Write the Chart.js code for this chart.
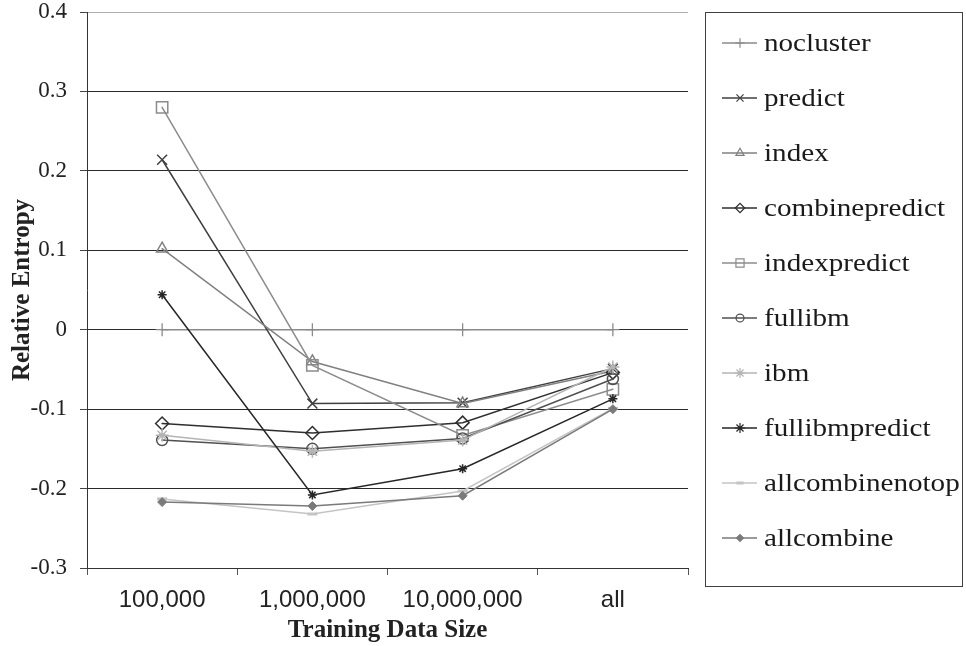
<!DOCTYPE html>
<html>
<head>
<meta charset="utf-8">
<script src="https://cdn.jsdelivr.net/npm/chart.js@4/dist/chart.umd.min.js"></script>
<style>
  html, body { margin: 0; padding: 0; background: #fff; }
  #wrap { width: 966px; height: 646px; }
</style>
</head>
<body>
<div id="wrap"><canvas id="c" width="966" height="646"></canvas></div>
<script>
// Training data sizes on the x axis
const categories = ['100,000', '1,000,000', '10,000,000', 'all'];
const yTicks = [-0.3, -0.2, -0.1, 0, 0.1, 0.2, 0.3, 0.4];

// Relative entropy for each clustering method
const nocluster       = [0.000, 0.000, 0.000, 0.000];
const predict         = [0.214, -0.093, -0.092, -0.049];
const index           = [0.102, -0.040, -0.093, -0.052];
const combinepredict  = [-0.118, -0.130, -0.117, -0.054];
const indexpredict    = [0.280, -0.045, -0.133, -0.075];
const fullibm         = [-0.139, -0.150, -0.137, -0.062];
const ibm             = [-0.133, -0.153, -0.139, -0.047];
const fullibmpredict  = [0.044, -0.208, -0.175, -0.087];
const allcombinenotop = [-0.213, -0.232, -0.203, -0.099];
const allcombine      = [-0.217, -0.222, -0.209, -0.100];

const NONE = 'rgba(0,0,0,0)';
const series = [
  { label: 'nocluster',       data: nocluster,       color: '#8a8a8a', style: 'cross',    r: 6.5, fill: NONE, bw: 1.3 },
  { label: 'predict',         data: predict,         color: '#404040', style: 'crossRot', r: 7,   fill: NONE, bw: 1.5 },
  { label: 'index',           data: index,           color: '#808080', style: 'triangle', r: 6.5, fill: NONE, bw: 1.5 },
  { label: 'combinepredict',  data: combinepredict,  color: '#2e2e2e', style: 'rectRot',  r: 6.5, fill: NONE, bw: 1.5 },
  { label: 'indexpredict',    data: indexpredict,    color: '#8c8c8c', style: 'rect',     r: 8,   fill: NONE, bw: 1.5 },
  { label: 'fullibm',         data: fullibm,         color: '#505050', style: 'circle',   r: 5.5, fill: NONE, bw: 1.5 },
  { label: 'ibm',             data: ibm,             color: '#b4b4b4', style: 'star',     r: 6.5, fill: NONE, bw: 1.5 },
  { label: 'fullibmpredict',  data: fullibmpredict,  color: '#262626', style: 'star',     r: 4.5, fill: NONE, bw: 1.5 },
  { label: 'allcombinenotop', data: allcombinenotop, color: '#c4c4c4', style: 'line',     r: 5,   fill: NONE, bw: 3 },
  { label: 'allcombine',      data: allcombine,      color: '#7a7a7a', style: 'rectRot',  r: 4.5, fill: '#7a7a7a', bw: 1 }
];

const N = series.length;
const datasets = series.map((s, i) => ({
  label: s.label,
  data: s.data,
  borderColor: s.color,
  backgroundColor: s.color,
  borderWidth: 1.5,
  pointStyle: s.style,
  pointRadius: s.r,
  pointHoverRadius: s.r,
  pointBorderColor: s.color,
  pointBackgroundColor: s.fill,
  pointBorderWidth: s.bw,
  tension: 0,
  fill: false,
  order: N - i
}));

// Boxed legend on the right: short line sample with marker, then the name
const boxedLegend = {
  id: 'boxedLegend',
  afterDraw(chart) {
    const ctx = chart.ctx;
    const x0 = 705.5, y0 = 12.5, x1 = 962.5, y1 = 586.5;
    ctx.save();
    ctx.strokeStyle = '#404040';
    ctx.lineWidth = 1;
    ctx.strokeRect(x0, y0, x1 - x0, y1 - y0);
    series.forEach((s, i) => {
      const cy = 43 + i * 55;
      ctx.strokeStyle = s.color;
      ctx.lineWidth = 1.5;
      ctx.beginPath();
      ctx.moveTo(722, cy);
      ctx.lineTo(757, cy);
      ctx.stroke();
      const lr = s.style === 'star' ? 5 : Math.max(3.5, s.r * 0.72);
      ctx.fillStyle = s.fill;
      ctx.strokeStyle = s.color;
      ctx.lineWidth = s.style === 'line' ? 3 : 1.2;
      Chart.helpers.drawPoint(ctx, {
        pointStyle: s.style, radius: lr, rotation: 0, borderWidth: ctx.lineWidth
      }, 740, cy);
      ctx.save();
      ctx.translate(764, cy + 8);
      ctx.scale(1.12, 1);
      ctx.fillStyle = '#1a1a1a';
      ctx.font = '26px "Liberation Serif", "Times New Roman", serif';
      ctx.textBaseline = 'alphabetic';
      ctx.textAlign = 'left';
      ctx.fillText(s.label, 0, 0);
      ctx.restore();
    });
    ctx.restore();
  }
};

new Chart(document.getElementById('c'), {
  type: 'line',
  data: { labels: categories, datasets },
  plugins: [boxedLegend],
  options: {
    responsive: false,
    animation: false,
    devicePixelRatio: 1,
    layout: { padding: { top: 12, right: 278, left: 0, bottom: 0 } },
    plugins: { legend: { display: false }, tooltip: { enabled: false } },
    elements: { line: { borderCapStyle: 'round' } },
    scales: {
      x: {
        type: 'category',
        offset: true,
        afterFit(scale) { scale.height = 78; },
        grid: {
          offset: true,
          drawOnChartArea: false,
          drawTicks: true,
          tickLength: 7,
          color: '#555',
          lineWidth: 1
        },
        border: { display: true, color: '#333', width: 1 },
        ticks: {
          padding: 11,
          color: '#222',
          font: { family: '"Liberation Sans", Arial, sans-serif', size: 24 }
        },
        title: {
          display: true,
          text: 'Training Data Size',
          color: '#222',
          padding: { top: 0, bottom: 0 },
          font: { family: '"Liberation Serif", "Times New Roman", serif', size: 25, weight: 'bold' }
        }
      },
      y: {
        min: -0.3,
        max: 0.4,
        afterFit(scale) { scale.width = 87; scale.paddingTop = 0; },
        afterBuildTicks(scale) { scale.ticks = yTicks.map(v => ({ value: v })); },
        grid: {
          color: ctx => (ctx.tick && ctx.tick.value === 0.4) ? '#b0b0b0' : '#2a2a2a',
          lineWidth: 1,
          tickLength: 7,
          tickColor: '#444'
        },
        border: { display: true, color: '#333', width: 1 },
        ticks: {
          padding: 13,
          color: '#222',
          font: { family: '"Liberation Serif", "Times New Roman", serif', size: 23 },
          callback: v => String(Math.round(v * 10) / 10)
        },
        title: {
          display: true,
          text: 'Relative Entropy',
          color: '#222',
          padding: { top: 8, bottom: 0 },
          font: { family: '"Liberation Serif", "Times New Roman", serif', size: 25, weight: 'bold' }
        }
      }
    }
  }
});
</script>
</body>
</html>
